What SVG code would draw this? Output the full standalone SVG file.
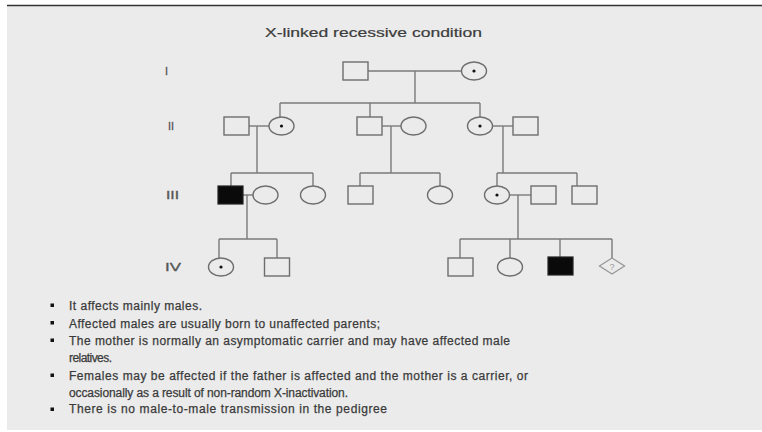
<svg xmlns="http://www.w3.org/2000/svg" width="762" height="432" viewBox="0 0 762 432">
<style>
.bg{fill:#ebebeb}
.m{fill:none;stroke:#6e6e6e;stroke-width:1.4}
.f{fill:none;stroke:#6e6e6e;stroke-width:1.4}
.a{fill:#0a0a0a;stroke:#222;stroke-width:1.2}
.dot{fill:#111}
.c{fill:none;stroke:#7a7a7a;stroke-width:1.4}
.gen{font-family:"Liberation Sans",Arial,sans-serif;font-size:11px;fill:#555;stroke:#555;stroke-width:0.3}
.title{font-family:"Liberation Sans",Arial,sans-serif;font-size:12.5px;fill:#3c3c3c;stroke:#3c3c3c;stroke-width:0.2}
.txt{font-family:"Liberation Sans",Arial,sans-serif;font-size:12px;fill:#3a3a3a;stroke:#3a3a3a;stroke-width:0.25}
.bul{fill:#111}
</style>
<rect x="0" y="0" width="762" height="432" fill="#ffffff"/>
<rect class="bg" x="7" y="5" width="755" height="425"/>
<line x1="7" y1="5.5" x2="762" y2="5.5" stroke="#333" stroke-width="1.5"/>

<text class="title" x="265" y="37" textLength="217" lengthAdjust="spacingAndGlyphs">X-linked recessive condition</text>

<g id="gen-labels">
<text class="gen" x="165" y="75" textLength="3" lengthAdjust="spacingAndGlyphs">I</text>
<text class="gen" x="168" y="130" textLength="6" lengthAdjust="spacingAndGlyphs">II</text>
<text class="gen" x="166" y="199" textLength="13" lengthAdjust="spacingAndGlyphs">III</text>
<text class="gen" x="165" y="271" textLength="16" lengthAdjust="spacingAndGlyphs">IV</text>
</g>

<g id="connectors">
<line class="c" x1="368" y1="71" x2="461.5" y2="71"/>
<line class="c" x1="415" y1="71" x2="415" y2="103"/>
<line class="c" x1="280" y1="103" x2="480" y2="103"/>
<line class="c" x1="280" y1="103" x2="280" y2="117"/>
<line class="c" x1="370" y1="103" x2="370" y2="117"/>
<line class="c" x1="480" y1="103" x2="480" y2="117"/>
<line class="c" x1="249" y1="126" x2="269" y2="126"/>
<line class="c" x1="257" y1="126" x2="257" y2="173"/>
<line class="c" x1="382" y1="126" x2="401" y2="126"/>
<line class="c" x1="391" y1="126" x2="391" y2="173"/>
<line class="c" x1="492.5" y1="126" x2="513" y2="126"/>
<line class="c" x1="503" y1="126" x2="503" y2="173"/>
<line class="c" x1="231" y1="173" x2="313" y2="173"/>
<line class="c" x1="231" y1="173" x2="231" y2="186"/>
<line class="c" x1="313" y1="173" x2="313" y2="186"/>
<line class="c" x1="360" y1="173" x2="440" y2="173"/>
<line class="c" x1="360" y1="173" x2="360" y2="186"/>
<line class="c" x1="440" y1="173" x2="440" y2="186"/>
<line class="c" x1="497" y1="173" x2="577" y2="173"/>
<line class="c" x1="497" y1="173" x2="497" y2="186"/>
<line class="c" x1="577" y1="173" x2="577" y2="186"/>
<line class="c" x1="243" y1="195" x2="253" y2="195"/>
<line class="c" x1="247" y1="195" x2="247" y2="239"/>
<line class="c" x1="509.5" y1="195" x2="531" y2="195"/>
<line class="c" x1="518" y1="195" x2="518" y2="239"/>
<line class="c" x1="219" y1="239" x2="277" y2="239"/>
<line class="c" x1="219" y1="239" x2="219" y2="258"/>
<line class="c" x1="277" y1="239" x2="277" y2="258"/>
<line class="c" x1="460" y1="239" x2="612" y2="239"/>
<line class="c" x1="460" y1="239" x2="460" y2="258"/>
<line class="c" x1="510" y1="239" x2="510" y2="258"/>
<line class="c" x1="560" y1="239" x2="560" y2="257"/>
<line class="c" x1="612" y1="239" x2="612" y2="258"/>
</g>

<g id="I-1"><rect class="m" x="343" y="62" width="25" height="18"/></g>
<g id="I-2"><ellipse class="f" cx="474" cy="71" rx="12.5" ry="9"/><circle class="dot" cx="474" cy="71" r="1.6"/></g>

<g id="II-1"><rect class="m" x="224" y="117" width="25" height="18"/></g>
<g id="II-2"><ellipse class="f" cx="281.5" cy="126" rx="12.5" ry="9"/><circle class="dot" cx="281.5" cy="126" r="1.6"/></g>
<g id="II-3"><rect class="m" x="357" y="117" width="25" height="18"/></g>
<g id="II-4"><ellipse class="f" cx="413.5" cy="126" rx="12.5" ry="9"/></g>
<g id="II-5"><ellipse class="f" cx="480" cy="126" rx="12.5" ry="9"/><circle class="dot" cx="480" cy="126" r="1.6"/></g>
<g id="II-6"><rect class="m" x="513" y="117" width="25" height="18"/></g>

<g id="III-1"><rect class="a" x="218" y="186" width="25" height="18"/></g>
<g id="III-2"><ellipse class="f" cx="265.5" cy="195" rx="12.5" ry="9"/></g>
<g id="III-3"><ellipse class="f" cx="313" cy="195" rx="12.5" ry="9"/></g>
<g id="III-4"><rect class="m" x="348" y="186" width="25" height="18"/></g>
<g id="III-5"><ellipse class="f" cx="440" cy="195" rx="12.5" ry="9"/></g>
<g id="III-6"><ellipse class="f" cx="497" cy="195" rx="12.5" ry="9"/><circle class="dot" cx="497" cy="195" r="1.6"/></g>
<g id="III-7"><rect class="m" x="531" y="186" width="25" height="18"/></g>
<g id="III-8"><rect class="m" x="572" y="186" width="25" height="18"/></g>

<g id="IV-1"><ellipse class="f" cx="221" cy="267" rx="12.5" ry="9"/><circle class="dot" cx="221" cy="267" r="1.6"/></g>
<g id="IV-2"><rect class="m" x="264.5" y="258" width="25" height="18"/></g>
<g id="IV-3"><rect class="m" x="448" y="258" width="25" height="18"/></g>
<g id="IV-4"><ellipse class="f" cx="510" cy="267" rx="12.5" ry="9"/></g>
<g id="IV-5"><rect class="a" x="548" y="257" width="25" height="18"/></g>
<g id="IV-6"><polygon points="599.5,266 612,258 624.5,266 612,274" fill="none" stroke="#9a9a9a" stroke-width="1.4"/><text x="612" y="269.5" text-anchor="middle" font-family="Liberation Sans, Arial, sans-serif" font-size="9" fill="#9a9a9a">?</text></g>

<g id="bullets">
<rect class="bul" x="50.5" y="303.5" width="3.5" height="3.5"/>
<rect class="bul" x="50.5" y="321" width="3.5" height="3.5"/>
<rect class="bul" x="50.5" y="338.5" width="3.5" height="3.5"/>
<rect class="bul" x="50.5" y="373.5" width="3.5" height="3.5"/>
<rect class="bul" x="50.5" y="407.5" width="3.5" height="3.5"/>
<text class="txt" x="69" y="310" textLength="133" lengthAdjust="spacing">It affects mainly males.</text>
<text class="txt" x="69" y="327.5" textLength="311" lengthAdjust="spacing">Affected males are usually born to unaffected parents;</text>
<text class="txt" x="69" y="345" textLength="441" lengthAdjust="spacing">The mother is normally an asymptomatic carrier and may have affected male</text>
<text class="txt" x="69" y="361.5" textLength="43" lengthAdjust="spacing">relatives.</text>
<text class="txt" x="69" y="379.5" textLength="459" lengthAdjust="spacing">Females may be affected if the father is affected and the mother is a carrier, or</text>
<text class="txt" x="69" y="396.5" textLength="279" lengthAdjust="spacing">occasionally as a result of non-random X-inactivation.</text>
<text class="txt" x="69" y="413" textLength="318" lengthAdjust="spacing">There is no male-to-male transmission in the pedigree</text>
</g>
</svg>
